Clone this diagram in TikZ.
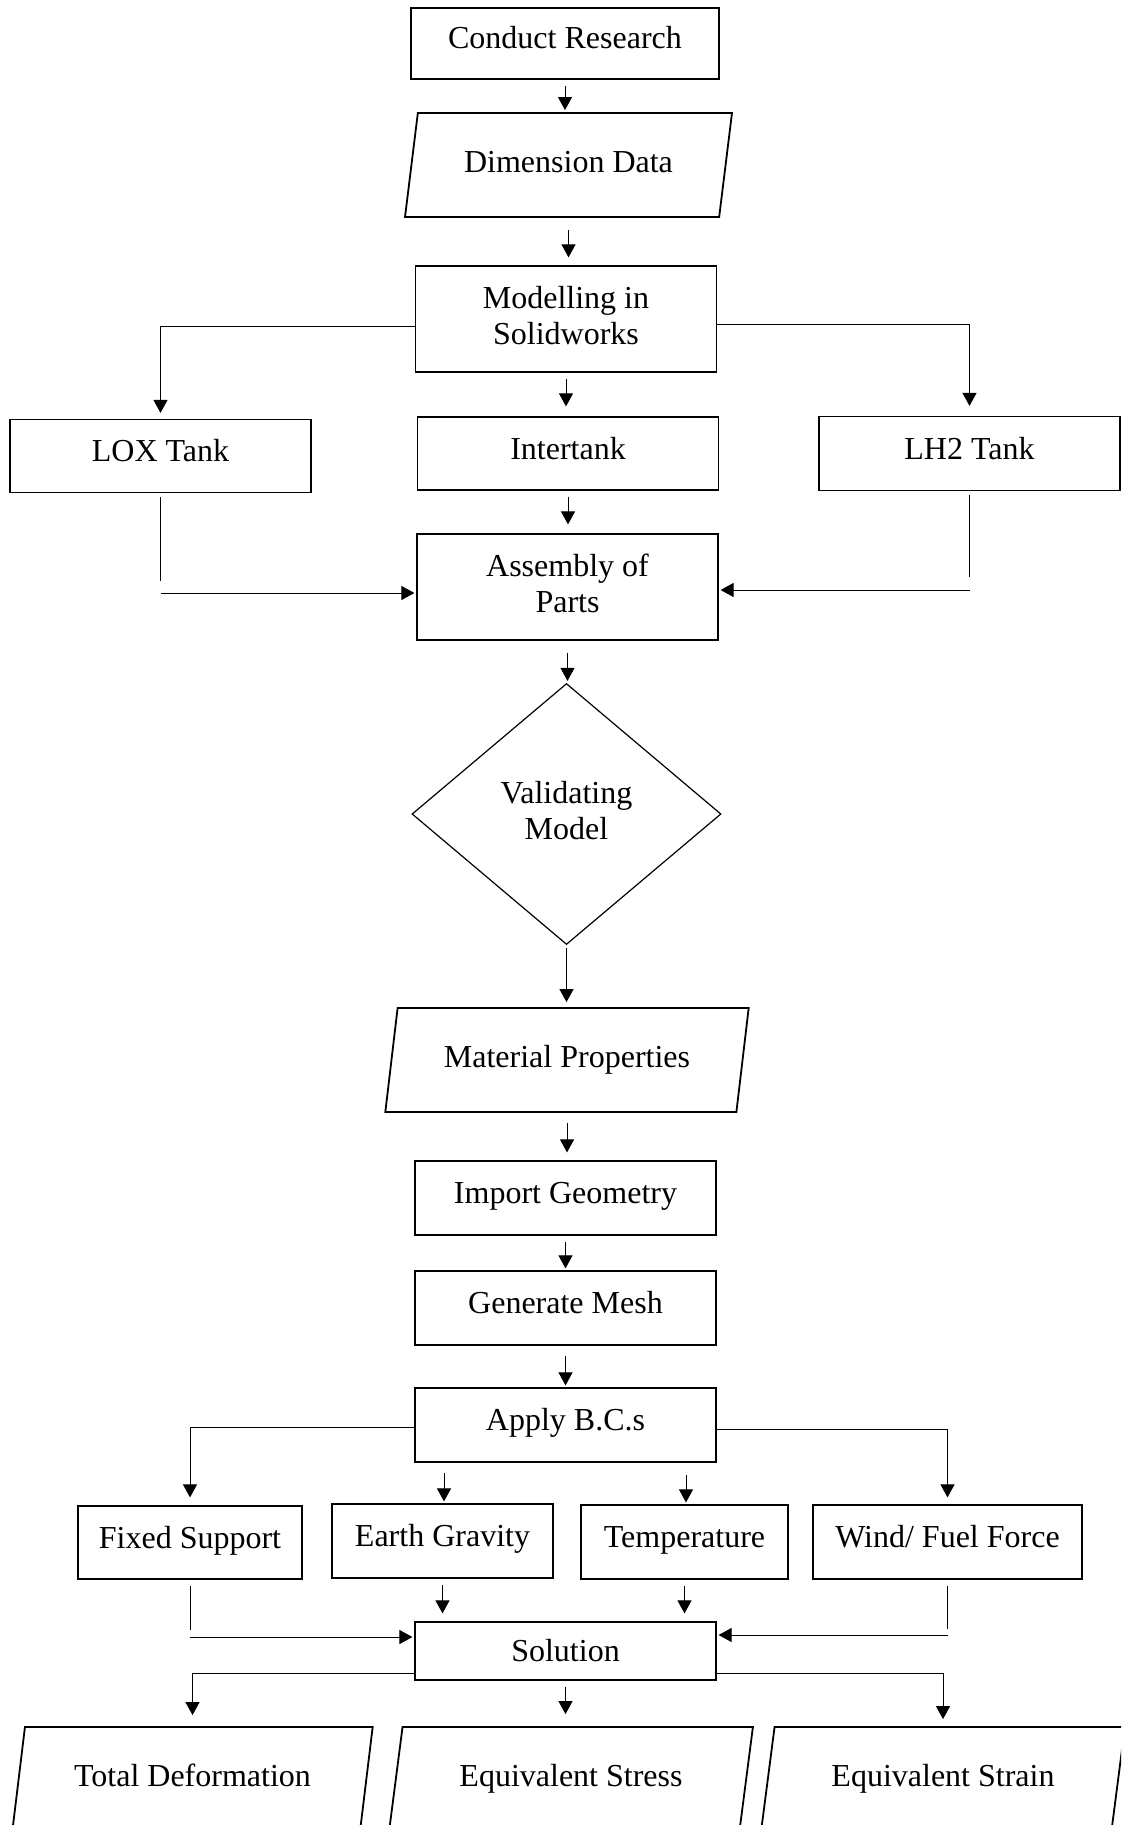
\documentclass[tikz,border=0pt]{standalone}
\usepackage{fontspec}
\setmainfont{Liberation Serif}
\usetikzlibrary{shapes.geometric,arrows.meta}

\begin{document}
\begin{tikzpicture}[x=0.5pt,y=-0.5pt,
  font=\fontsize{16}{18}\selectfont,
  box/.style={draw, line width=0.6pt, minimum width=150.5pt, minimum height=37pt, inner sep=2pt, align=center},
  onebox/.style={box, text height=11pt, text depth=5.5pt},
  twobox/.style={box, text depth=3.5pt},
  data/.style={draw, trapezium, trapezium left angle=76, trapezium right angle=104, trapezium stretches=true, line width=0.9pt, minimum width=182pt, minimum height=52pt, inner sep=2pt, text height=11pt, text depth=3.5pt},
  decide/.style={draw, diamond, line width=0.6pt, minimum width=154.5pt, minimum height=130.5pt, inner sep=0pt, align=center, text depth=3.5pt},
  line/.style={line width=0.5pt},
  arrow/.style={line width=0.5pt, -{Triangle[length=6.5pt,width=7pt]}, shorten <=3pt, shorten >=1pt}]
\useasboundingbox (0,0) rectangle (1121,1825);
\clip (0,0) rectangle (1121,1825);

\node[onebox, minimum width=154pt, minimum height=35.5pt] (research) at (565,43.5) {Conduct Research};
\node[data, minimum width=163.5pt] (dimdata) at (568.5,165) {Dimension Data};
\node[twobox, minimum height=53pt] (modelling) at (566,319) {Modelling in\\Solidworks};
\node[onebox, minimum height=36.5pt] (lox) at (160.5,456) {LOX Tank};
\node[onebox, minimum height=36.5pt] (intertank) at (568,453.5) {Intertank};
\node[onebox, minimum height=37pt] (lh2) at (969.5,453.5) {LH2 Tank};
\node[twobox, minimum height=53pt] (assembly) at (567.5,587) {Assembly of\\Parts};
\node[decide] (validate) at (566.5,814) {Validating\\Model};
\node[data] (material) at (567,1060) {Material Properties};
\node[onebox] (import) at (565.5,1198) {Import Geometry};
\node[onebox] (mesh) at (565.5,1308) {Generate Mesh};
\node[onebox] (apply) at (565.5,1425) {Apply B.C.s};
\node[onebox, minimum width=112pt, minimum height=36.5pt] (fixed) at (190,1542.5) {Fixed Support};
\node[onebox, minimum width=110.5pt] (gravity) at (442.5,1541) {Earth Gravity};
\node[onebox, minimum width=103.5pt] (temp) at (684.5,1542) {Temperature};
\node[onebox, minimum width=134.5pt] (wind) at (947.5,1542) {Wind/ Fuel Force};
\node[box, minimum height=29pt] (solution) at (565.5,1651) {Solution};
\node[data, minimum width=180.5pt] (total) at (192.5,1779) {Total Deformation};
\node[data] (stress) at (571,1779) {Equivalent Stress};
\node[data] (strain) at (943,1779) {Equivalent Strain};

\coordinate (loxend) at (160.5,581);
\coordinate (loxin) at (160.5,593);
\coordinate (lh2end) at (969.5,577);
\coordinate (lh2in) at (969.5,590);
\coordinate (gravitytop) at (444,1473);
\coordinate (temptop) at (686,1475);
\coordinate (fixedend) at (190,1630);
\coordinate (fixedin) at (190,1637);
\coordinate (windend) at (947.5,1629);
\coordinate (windin) at (947.5,1635);

\draw[arrow] (research.south) -- (research.south |- dimdata.north);
\draw[arrow, shorten <=6pt, shorten >=4pt] (dimdata.south) -- (dimdata.south |- modelling.north);
\draw[arrow, shorten <=0pt, shorten >=3pt] ([yshift=-3.5pt]modelling.west) -| (lox.north);
\draw[arrow, shorten <=0pt, shorten >=5pt] ([yshift=-2.5pt]modelling.east) -| (lh2.north);
\draw[arrow, shorten >=5pt] (modelling.south) -- (modelling.south |- intertank.north);
\draw[arrow, shorten >=4.5pt] (intertank.south) -- (intertank.south |- assembly.north);
\draw[line, shorten <=2pt] (lox.south) -- (loxend);
\draw[arrow, shorten <=0pt] (loxin) -- (loxin -| assembly.west);
\draw[line, shorten <=2pt] (lh2.south) -- (lh2end);
\draw[arrow, shorten <=0pt] (lh2in) -- (lh2in -| assembly.east);
\draw[arrow, shorten <=6pt] (assembly.south) -- (assembly.south |- validate.north);
\draw[arrow, shorten <=1.5pt, shorten >=2.5pt] (validate.south) -- (validate.south |- material.north);
\draw[arrow, shorten <=5pt, shorten >=4pt] (material.south) -- (material.south |- import.north);
\draw[arrow] (import.south) -- (import.south |- mesh.north);
\draw[arrow, shorten <=5pt] (mesh.south) -- (mesh.south |- apply.north);
\draw[arrow, shorten <=0pt, shorten >=4pt] ([yshift=-1pt]apply.west) -| (fixed.north);
\draw[arrow, shorten <=0pt, shorten >=3.5pt] ([yshift=-2pt]apply.east) -| (wind.north);
\draw[arrow, shorten <=0pt] (gravitytop) -- (gravitytop |- gravity.north);
\draw[arrow, shorten <=0pt] (temptop) -- (temptop |- temp.north);
\draw[line, shorten <=3pt] (fixed.south) -- (fixedend);
\draw[arrow, shorten <=0pt] (fixedin) -- (fixedin -| solution.west);
\draw[arrow, shorten >=4pt] (gravity.south) -- (gravity.south |- solution.north);
\draw[arrow, shorten >=4pt] (temp.south) -- (temp.south |- solution.north);
\draw[line, shorten <=3pt] (wind.south) -- (windend);
\draw[arrow, shorten <=0pt] (windin) -- (windin -| solution.east);
\draw[arrow, shorten <=0pt, shorten >=5.5pt] ([yshift=-11pt]solution.west) -| (total.north);
\draw[arrow, shorten >=6pt] (solution.south) -- (solution.south |- stress.north);
\draw[arrow, shorten <=0pt, shorten >=3.5pt] ([yshift=-11pt]solution.east) -| (strain.north);

\end{tikzpicture}
\end{document}
